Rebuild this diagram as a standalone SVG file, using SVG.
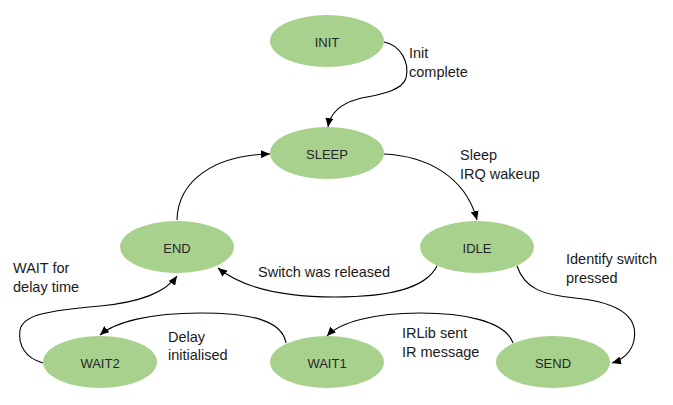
<svg xmlns="http://www.w3.org/2000/svg" width="673" height="405" viewBox="0 0 673 405">
<style>
.node ellipse{fill:#A9D18E;stroke:none}
.node text{font-family:"Liberation Sans",Arial,sans-serif;font-size:13px;fill:#262626;text-anchor:middle}
.lbl{font-family:"Liberation Sans",Arial,sans-serif;font-size:14.5px;fill:#1a1a1a}
.edge{fill:none;stroke:#000;stroke-width:1.1;marker-end:url(#arr)}
</style>
<defs>
<marker id="arr" markerUnits="userSpaceOnUse" markerWidth="9" markerHeight="8" refX="9" refY="4" orient="auto">
<path d="M0,0 L9,4 L0,8 z" fill="#000"/>
</marker>
</defs>
<rect width="673" height="405" fill="#fff"/>
<g id="connectors">
<path class="edge" d="M384,42 C400,45 410,62 406,78 C402,92 375,95 358,99 C340,104 330,114 328,127"/>
<path class="edge" d="M384,154 C425,156 465,175 477,220"/>
<path class="edge" d="M177,220 C178,180 215,155 270,154"/>
<path class="edge" d="M437,266 C425,290 385,297 335,297 C290,297 245,290 218,268"/>
<path class="edge" d="M517,266 C525,290 545,295 575,298 C625,303 638,320 634,340 C632,352 622,360 612,363"/>
<path class="edge" d="M513,343 C505,320 460,313 420,313 C375,313 340,322 327,336"/>
<path class="edge" d="M286,343 C282,320 250,313 200,313 C150,313 115,322 100,335"/>
<path class="edge" d="M43,363 C25,358 18,345 20,330 C23,315 45,311 100,306 C140,302 165,293 177,276"/>
</g>
<g id="INIT" class="node"><ellipse cx="327" cy="41" rx="57" ry="26"/><text x="327" y="47">INIT</text></g>
<g id="SLEEP" class="node"><ellipse cx="327" cy="153" rx="57" ry="26"/><text x="327" y="159">SLEEP</text></g>
<g id="END" class="node"><ellipse cx="177" cy="247" rx="57" ry="26"/><text x="177" y="253">END</text></g>
<g id="IDLE" class="node"><ellipse cx="477" cy="247" rx="57" ry="26"/><text x="477" y="253">IDLE</text></g>
<g id="WAIT2" class="node"><ellipse cx="100" cy="362" rx="57" ry="26"/><text x="100" y="368">WAIT2</text></g>
<g id="WAIT1" class="node"><ellipse cx="327" cy="362" rx="57" ry="26"/><text x="327" y="368">WAIT1</text></g>
<g id="SEND" class="node"><ellipse cx="553" cy="362" rx="57" ry="26"/><text x="553" y="368">SEND</text></g>
<g id="labels">
<text class="lbl" x="409" y="58">Init</text>
<text class="lbl" x="409" y="77">complete</text>
<text class="lbl" x="460" y="160">Sleep</text>
<text class="lbl" x="460" y="179">IRQ wakeup</text>
<text class="lbl" x="566" y="264">Identify switch</text>
<text class="lbl" x="566" y="283">pressed</text>
<text class="lbl" x="258" y="277">Switch was released</text>
<text class="lbl" x="13" y="273">WAIT for</text>
<text class="lbl" x="13" y="292">delay time</text>
<text class="lbl" x="168" y="342">Delay</text>
<text class="lbl" x="168" y="360">initialised</text>
<text class="lbl" x="402" y="338">IRLib sent</text>
<text class="lbl" x="402" y="357">IR message</text>
</g>
</svg>
